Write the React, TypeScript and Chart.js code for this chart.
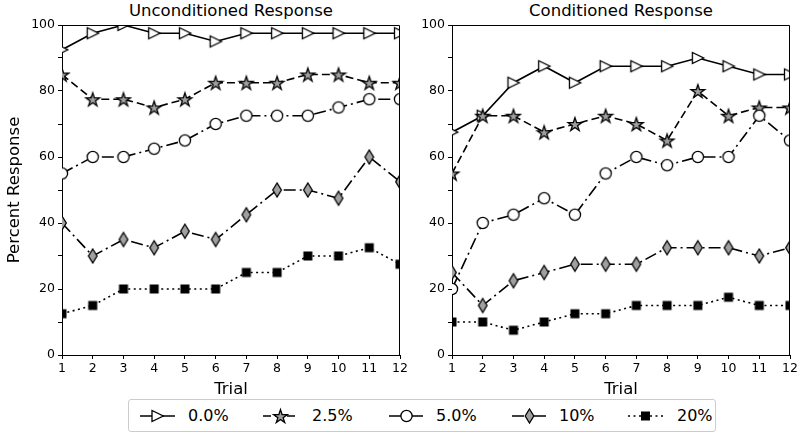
import React, { useEffect, useRef } from 'react';
import { Chart, registerables } from 'chart.js';

Chart.register(...registerables);

const trials = [1, 2, 3, 4, 5, 6, 7, 8, 9, 10, 11, 12];
const seriesLabels = ['0.0%', '2.5%', '5.0%', '10%', '20%'];
const yTickLabels = [0, 20, 40, 60, 80, 100];

// Unconditioned Response
const uncond00 = [92.5, 97.5, 100, 97.5, 97.5, 95, 97.5, 97.5, 97.5, 97.5, 97.5, 97.5];
const uncond25 = [85, 77.5, 77.5, 75, 77.5, 82.5, 82.5, 82.5, 85, 85, 82.5, 82.5];
const uncond50 = [55, 60, 60, 62.5, 65, 70, 72.5, 72.5, 72.5, 75, 77.5, 77.5];
const uncond10 = [40, 30, 35, 32.5, 37.5, 35, 42.5, 50, 50, 47.5, 60, 52.5];
const uncond20 = [12.5, 15, 20, 20, 20, 20, 25, 25, 30, 30, 32.5, 27.5];

// Conditioned Response
const cond00 = [67.5, 72.5, 82.5, 87.5, 82.5, 87.5, 87.5, 87.5, 90, 87.5, 85, 85];
const cond25 = [55, 72.5, 72.5, 67.5, 70, 72.5, 70, 65, 80, 72.5, 75, 75];
const cond50 = [20, 40, 42.5, 47.5, 42.5, 55, 60, 57.5, 60, 60, 72.5, 65];
const cond10 = [25, 15, 22.5, 25, 27.5, 27.5, 27.5, 32.5, 32.5, 32.5, 30, 32.5];
const cond20 = [10, 10, 7.5, 10, 12.5, 12.5, 15, 15, 15, 17.5, 15, 15];

const FONT = "'DejaVu Sans', sans-serif";
const GRAY = '#a0a0a0';
const dashes: number[][] = [[], [8, 4], [12, 4, 2, 4], [12, 4, 2, 4], [2, 3.5]];

function mk(w: number, h: number, draw: (c: CanvasRenderingContext2D) => void) {
  const c = document.createElement('canvas');
  c.width = w;
  c.height = h;
  const ctx = c.getContext('2d')!;
  ctx.translate(w / 2, h / 2);
  ctx.lineWidth = 1.3;
  ctx.strokeStyle = '#000';
  ctx.lineJoin = 'miter';
  draw(ctx);
  return c;
}

function makeMarkers() {
  const tri = mk(16, 16, (c) => {
    c.beginPath();
    c.moveTo(-5.5, -5.5);
    c.lineTo(-5.5, 5.5);
    c.lineTo(5.8, 0);
    c.closePath();
    c.fillStyle = '#fff';
    c.fill();
    c.stroke();
  });
  const star = mk(18, 18, (c) => {
    const R = 7.2;
    const r = R * 0.381966;
    c.beginPath();
    for (let i = 0; i < 10; i++) {
      const a = -Math.PI / 2 + (i * Math.PI) / 5;
      const rad = i % 2 === 0 ? R : r;
      const x = Math.cos(a) * rad;
      const y = Math.sin(a) * rad + 0.8;
      if (i === 0) c.moveTo(x, y);
      else c.lineTo(x, y);
    }
    c.closePath();
    c.fillStyle = GRAY;
    c.fill();
    c.stroke();
  });
  const circ = mk(16, 16, (c) => {
    c.beginPath();
    c.arc(0, 0, 5.6, 0, Math.PI * 2);
    c.fillStyle = '#fff';
    c.fill();
    c.stroke();
  });
  const dia = mk(12, 18, (c) => {
    c.beginPath();
    c.moveTo(0, -7);
    c.lineTo(4.3, 0);
    c.lineTo(0, 7);
    c.lineTo(-4.3, 0);
    c.closePath();
    c.fillStyle = GRAY;
    c.fill();
    c.stroke();
  });
  const sq = mk(12, 12, (c) => {
    c.fillStyle = '#000';
    c.fillRect(-4.5, -4.5, 9, 9);
  });
  return [tri, star, circ, dia, sq];
}

const boxPlugin = {
  id: 'box',
  afterDatasetsDraw(chart: any) {
    const { ctx, chartArea: a } = chart;
    ctx.save();
    ctx.strokeStyle = '#000';
    ctx.lineWidth = 1;
    ctx.beginPath();
    ctx.moveTo(a.left, a.top + 0.5);
    ctx.lineTo(a.right - 0.5, a.top + 0.5);
    ctx.lineTo(a.right - 0.5, a.bottom);
    ctx.stroke();
    ctx.restore();
  },
};

function makeConfig(series: number[][], markers: HTMLCanvasElement[], yWidth: number, showYTitle: boolean): any {
  return {
    type: 'line',
    data: {
      datasets: series.map((vals, i) => ({
        label: seriesLabels[i],
        data: trials.map((t, j) => ({ x: t, y: vals[j] })),
        borderColor: '#000',
        borderWidth: 1.6,
        borderDash: dashes[i],
        backgroundColor: '#000',
        pointStyle: markers[i],
        pointRadius: 6,
        tension: 0,
        fill: false,
        clip: 0,
        order: 4 - i,
      })),
    },
    options: {
      animation: false,
      responsive: false,
      maintainAspectRatio: false,
      events: [],
      layout: { padding: { top: 25, right: 10, left: 0, bottom: 0 } },
      plugins: { legend: { display: false }, tooltip: { enabled: false }, title: { display: false } },
      scales: {
        x: {
          type: 'linear',
          min: 1,
          max: 12,
          afterFit: (s: any) => {
            s.height = 45;
          },
          ticks: {
            stepSize: 1,
            autoSkip: false,
            maxRotation: 0,
            color: '#000',
            padding: 2,
            font: { family: FONT, size: 12.5 },
          },
          grid: { drawOnChartArea: false, drawTicks: true, tickLength: 4, color: '#000', lineWidth: 1 },
          border: { display: true, color: '#000', width: 1 },
          title: {
            display: true,
            text: 'Trial',
            color: '#000',
            padding: 0,
            font: { family: FONT, size: 16.5, lineHeight: 1.2 },
          },
        },
        y: {
          type: 'linear',
          min: 0,
          max: 100,
          afterFit: (s: any) => {
            s.width = yWidth;
          },
          ticks: {
            stepSize: 10,
            autoSkip: false,
            color: '#000',
            padding: 3,
            font: { family: FONT, size: 12.5 },
            callback: (v: number) => (yTickLabels.includes(v) ? String(v) : ''),
          },
          grid: { drawOnChartArea: false, drawTicks: true, tickLength: 4, color: '#000', lineWidth: 1 },
          border: { display: true, color: '#000', width: 1 },
          title: {
            display: showYTitle,
            text: 'Percent Response',
            color: '#000',
            padding: { top: 5, bottom: 0 },
            font: { family: FONT, size: 16.5, lineHeight: 1.2 },
          },
        },
      },
    },
    plugins: [boxPlugin],
  };
}

function Handle({ idx }: { idx: number }) {
  const dash = dashes[idx].join(' ');
  const cx = 17.5;
  const cy = 10;
  let marker: React.ReactNode = null;
  if (idx === 0)
    marker = <polygon points={`${cx - 5.5},${cy - 5.5} ${cx - 5.5},${cy + 5.5} ${cx + 5.8},${cy}`} fill="#fff" stroke="#000" strokeWidth={1.3} />;
  if (idx === 1) {
    const R = 7.2;
    const r = R * 0.381966;
    const pts: string[] = [];
    for (let i = 0; i < 10; i++) {
      const a = -Math.PI / 2 + (i * Math.PI) / 5;
      const rad = i % 2 === 0 ? R : r;
      pts.push(`${cx + Math.cos(a) * rad},${cy + Math.sin(a) * rad + 0.8}`);
    }
    marker = <polygon points={pts.join(' ')} fill={GRAY} stroke="#000" strokeWidth={1.3} />;
  }
  if (idx === 2) marker = <circle cx={cx} cy={cy} r={5.6} fill="#fff" stroke="#000" strokeWidth={1.3} />;
  if (idx === 3)
    marker = <polygon points={`${cx},${cy - 7} ${cx + 4.3},${cy} ${cx},${cy + 7} ${cx - 4.3},${cy}`} fill={GRAY} stroke="#000" strokeWidth={1.3} />;
  if (idx === 4) marker = <rect x={cx - 4.5} y={cy - 4.5} width={9} height={9} fill="#000" />;
  return (
    <svg width={35} height={20} style={{ display: 'block' }}>
      <line x1={0} y1={cy} x2={35} y2={cy} stroke="#000" strokeWidth={1.6} strokeDasharray={dash || undefined} />
      {marker}
    </svg>
  );
}

const handleLefts = [140, 263, 389, 512, 628];
const textLefts = [188, 312, 436, 559, 677];

export default function App() {
  const leftRef = useRef<HTMLCanvasElement>(null);
  const rightRef = useRef<HTMLCanvasElement>(null);

  useEffect(() => {
    const markers = makeMarkers();
    const c1 = new Chart(leftRef.current!, makeConfig([uncond00, uncond25, uncond50, uncond10, uncond20], markers, 62, true));
    const c2 = new Chart(rightRef.current!, makeConfig([cond00, cond25, cond50, cond10, cond20], markers, 52, false));
    return () => {
      c1.destroy();
      c2.destroy();
    };
  }, []);

  const titleStyle: React.CSSProperties = {
    position: 'absolute',
    top: 0,
    height: 22,
    lineHeight: '22px',
    textAlign: 'center',
    fontFamily: FONT,
    fontSize: 16.5,
    color: '#000',
    whiteSpace: 'nowrap',
  };

  return (
    <div style={{ position: 'fixed', left: 0, top: 0, width: 800, height: 439, background: '#fff', overflow: 'hidden' }}>
      <div style={{ ...titleStyle, left: 62, width: 338 }}>Unconditioned Response</div>
      <div style={{ ...titleStyle, left: 452, width: 338 }}>Conditioned Response</div>
      <canvas ref={leftRef} width={410} height={400} style={{ position: 'absolute', left: 0, top: 0, width: 410, height: 400 }} />
      <canvas ref={rightRef} width={400} height={400} style={{ position: 'absolute', left: 400, top: 0, width: 400, height: 400 }} />
      <div
        style={{
          position: 'absolute',
          left: 128,
          top: 399,
          width: 588,
          height: 33,
          border: '1px solid #cccccc',
          borderRadius: 3,
          boxSizing: 'border-box',
          background: '#fff',
        }}
      />
      {seriesLabels.map((lab, i) => (
        <React.Fragment key={lab}>
          <div style={{ position: 'absolute', left: handleLefts[i], top: 406 }}>
            <Handle idx={i} />
          </div>
          <div
            style={{
              position: 'absolute',
              left: textLefts[i],
              top: 405,
              height: 22,
              lineHeight: '22px',
              fontFamily: FONT,
              fontSize: 16,
              color: '#000',
              whiteSpace: 'nowrap',
            }}
          >
            {lab}
          </div>
        </React.Fragment>
      ))}
    </div>
  );
}
